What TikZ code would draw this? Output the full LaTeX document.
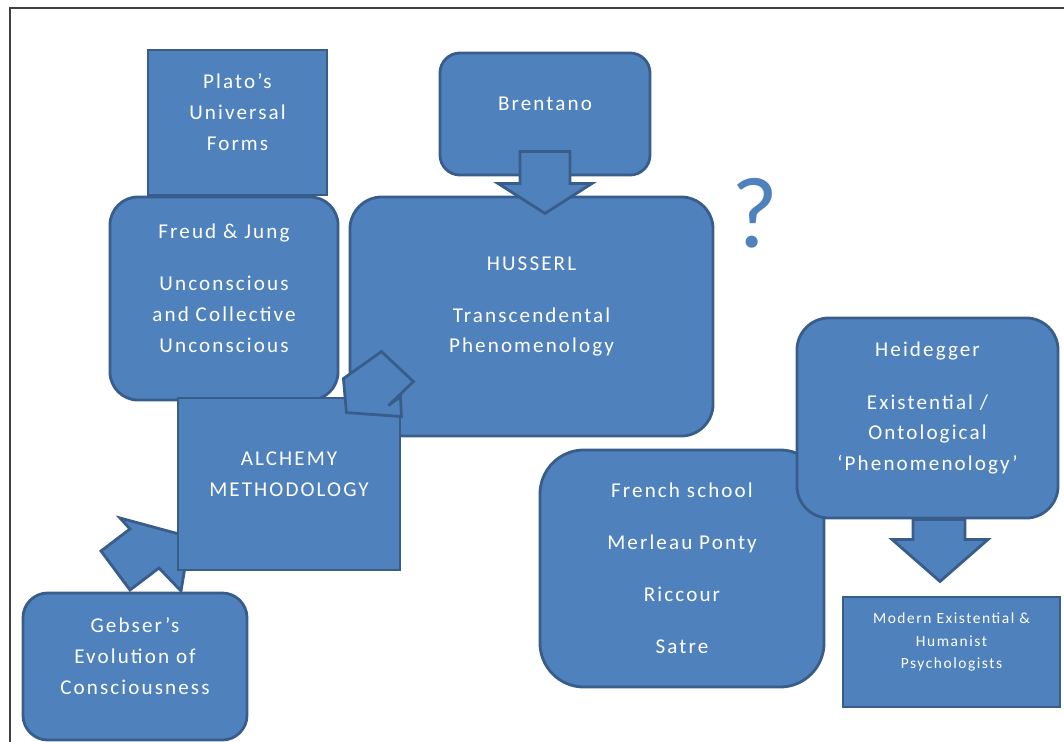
\documentclass[tikz,border=0pt]{standalone}
\usepackage{fontspec}
\setmainfont{Carlito}
\newfontfamily\boxfont[LetterSpace=10]{Carlito}
\definecolor{officeblue}{HTML}{4F81BD}
\definecolor{officeedge}{HTML}{385D8A}
\tikzset{>=latex}

\begin{document}
\begin{tikzpicture}[x=0.025cm, y=-0.025cm,
  box/.style = {draw = officeedge, fill = officeblue, line width = 2pt, inner sep = 0pt},
  rbox/.style = {box, rounded corners = #1},
  boxtext/.style = {text = white, align = center, yshift = 0.25cm,
    font = \boxfont\fontsize{15}{22}\selectfont},
  smalltext/.style = {boxtext, font = \boxfont\fontsize{11}{16}\selectfont},
  blockarrow/.style = {draw = officeedge, fill = officeblue, line width = 2pt, line join = miter},
  frame/.style = {line width = 1.5pt, black!75}]
\useasboundingbox (0,0) rectangle (1064,742);
\draw[frame] (10,742) -- (10,8) -- (1064,8);

% left column
\node[box, minimum width = 4.475cm, minimum height = 3.625cm,
  label = {[boxtext]center:{Plato’s\\Universal\\Forms}}] (plato) at (237.5,122.5) {};
\node[rbox = 0.7cm, minimum width = 5.7cm, minimum height = 5.075cm,
  label = {[boxtext]center:{Freud \& Jung\\[0.525cm]Unconscious\\and Collective\\Unconscious}}] (freud) at (224,298.5) {};

% Brentano and Husserl
\node[rbox = 0.8cm, minimum width = 9.075cm, minimum height = 5.975cm,
  label = {[boxtext]center:{HUSSERL\\[0.525cm]Transcendental\\Phenomenology}}] (husserl) at (531.5,316.5) {};
\node[rbox = 0.5cm, minimum width = 5.25cm, minimum height = 3.05cm,
  label = {[boxtext]center:Brentano}] (brentano) at (545,114) {};
\draw[blockarrow, shift = {(brentano.south)}] (-25,-25) -- (25,-25) -- (25,7) -- (47,7)
  -- (0,37) -- (-47,7) -- (-25,7) -- cycle;
\node[text = officeblue, font = \fontsize{72}{72}\selectfont] (query) at (755,213) {?};

% alchemy in the middle
\draw[blockarrow, shift = {(178,570)}] (-77,-19) -- (-48,-41) -- (-58,-52) -- (12,-33)
  -- (3,21) -- (-19,-2) -- (-48,20) -- cycle;
\node[box, minimum width = 5.55cm, minimum height = 4.3cm,
  label = {[boxtext]center:{ALCHEMY\\METHODOLOGY}}] (alchemy) at (289,484) {};
\draw[blockarrow, shift = {(alchemy.north east)}] (-55,16) -- (-58,-18) -- (-20,-45)
  -- (12,-15) -- (-13,9) -- (-1,0) -- (0,20) -- cycle;
\node[rbox = 0.62cm, minimum width = 5.6cm, minimum height = 3.675cm,
  label = {[boxtext]center:{Gebser’s\\Evolution of\\Consciousness}}] (gebser) at (135,666.5) {};

% right hand side
\node[rbox = 1.1cm, minimum width = 7.1cm, minimum height = 5.925cm,
  label = {[boxtext, yshift = -0.25cm]center:{French school\\[0.525cm]Merleau Ponty\\[0.525cm]Riccour\\[0.525cm]Satre}}] (french) at (682,568.5) {};
\node[rbox = 0.8cm, minimum width = 6.525cm, minimum height = 5cm,
  label = {[boxtext]center:{Heidegger\\[0.55cm]Existential /\\Ontological\\‘Phenomenology’}}] (heidegger) at (927.5,418) {};
\draw[blockarrow, shift = {(heidegger.south)}] (-14.5,0) -- (37.5,0) -- (37.5,20) -- (60.5,20)
  -- (12.5,62) -- (-35.5,20) -- (-14.5,20) -- cycle;
\node[box, minimum width = 5.425cm, minimum height = 2.75cm,
  label = {[smalltext]center:{Modern Existential \&\\Humanist\\Psychologists}}] (modern) at (951.5,652) {};
\end{tikzpicture}
\end{document}
